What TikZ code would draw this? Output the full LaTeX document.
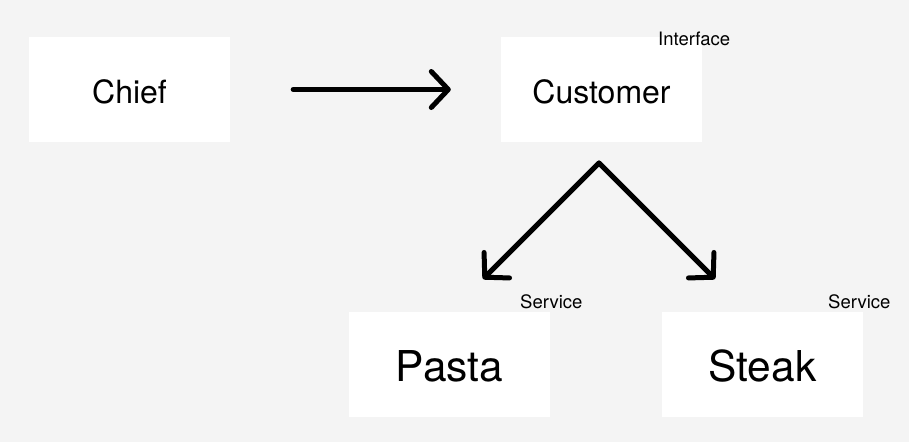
\documentclass[tikz,border=0pt]{standalone}
\usepackage{fontspec}
\setmainfont{TeX Gyre Heros}
\usetikzlibrary{arrows.meta}
\definecolor{bg}{HTML}{F4F4F4}
\tikzset{
  box/.style={fill=white, draw=none, inner sep=0pt, minimum width=201pt, minimum height=105pt, text depth=0pt},
  mid/.style={box, font=\fontsize{32pt}{37pt}\selectfont, text height=27pt},
  big/.style={box, font=\fontsize{42.5pt}{48pt}\selectfont, text height=33pt},
  tag/.style={anchor=base west, inner sep=0pt, font=\fontsize{18.5pt}{21pt}\selectfont},
  conn/.style={line width=5pt, line cap=round, -{Straight Barb[round, length=17pt, width=36pt]}}
}
\begin{document}
\begin{tikzpicture}[x=1pt, y=-1pt]
\fill[bg] (0,0) rectangle (909,442);
\useasboundingbox (0,0) rectangle (909,442);
\node[mid] (chief) at (129.5,89.5) {Chief};
\node[mid] (cust) at (601.5,89.5) {Customer};
\node[big] (pasta) at (449.5,364.5) {Pasta};
\node[big] (steak) at (762.5,364.5) {Steak};
\node[tag] (ifc) at (658,45) {Interface};
\node[tag] (sv1) at (520,308) {Service};
\node[tag] (sv2) at (828,308) {Service};
\coordinate (apex) at (599,163);
\coordinate (tipL) at (483,279);
\coordinate (tipR) at (715,279);
\draw[conn, shorten <=63pt, shorten >=50pt] (chief.east) -- (cust.west);
\draw[conn] (apex) -- (tipL);
\draw[conn] (apex) -- (tipR);
\end{tikzpicture}
\end{document}
